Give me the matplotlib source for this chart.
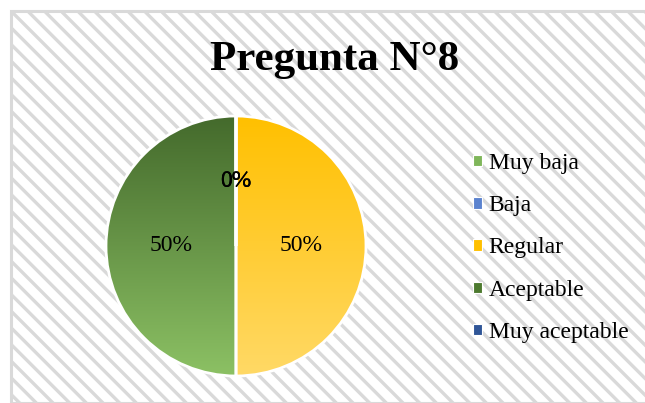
import matplotlib
matplotlib.use("Agg")
import matplotlib.pyplot as plt
import numpy as np
from matplotlib.patches import Rectangle, Patch
from matplotlib.colors import LinearSegmentedColormap

categories = ["Muy baja", "Baja", "Regular", "Aceptable", "Muy aceptable"]
values = [0, 0, 50, 50, 0]
title = "Pregunta N°8"

base_colors = ["#7FB65A", "#5B83CF", "#FFC000", "#4D7A2F", "#2F5597"]
grad_top = ["#6FA34A", "#4A72C0", "#FFC000", "#446A2C", "#2A4C8A"]
grad_bot = ["#9ACB74", "#8FAADC", "#FFD966", "#8CC164", "#5A7EC0"]

plt.rcParams["font.family"] = ["Liberation Serif", "DejaVu Serif"]
plt.rcParams["hatch.color"] = "#eeeeee"
plt.rcParams["hatch.linewidth"] = 2.4

W, H = 645, 403
fig = plt.figure(figsize=(W / 100, H / 100), dpi=100)
fig.patch.set_facecolor("white")

# chart area background with diagonal stripes
bg = Rectangle((11 / W, 0), 1, 1 - 11 / H, transform=fig.transFigure,
               facecolor="white", edgecolor="#d9d9d9", linewidth=2.2,
               hatch="\\\\", zorder=-5)
fig.patches.append(bg)

cx, cy, r = 236, 246, 130
ax = fig.add_axes([(cx - r) / W, (H - cy - r) / H, 2 * r / W, 2 * r / H])
ax.set_facecolor("none")
ax.axis("off")
ax.set_zorder(2)

wedges, texts, autotexts = ax.pie(
    values, startangle=90, counterclock=False, radius=1,
    autopct="%1.0f%%", pctdistance=0.5,
    wedgeprops=dict(edgecolor="white", linewidth=2.0, facecolor="none"),
    textprops=dict(fontsize=17, color="black"))

for i, w in enumerate(wedges):
    w.set_zorder(3)
    if values[i] <= 0:
        continue
    cmap = LinearSegmentedColormap.from_list("g", [grad_top[i], grad_bot[i]])
    grad = np.linspace(0, 1, 256).reshape(-1, 1)
    im = ax.imshow(grad, cmap=cmap, extent=[-1, 1, -1, 1], origin="upper",
                   aspect="auto", zorder=2, interpolation="bilinear")
    im.set_clip_path(w)

for t in autotexts:
    t.set_zorder(5)

ax.set_xlim(-1.0, 1.0)
ax.set_ylim(-1.0, 1.0)
ax.set_aspect("equal")

fig.text(335 / W, 1 - 60 / H, title, ha="center", va="center",
         fontsize=31, fontweight="bold")

handles = [Patch(facecolor=c, edgecolor="white", linewidth=0.8) for c in base_colors]
leg = fig.legend(handles, categories, loc="center left",
                 bbox_to_anchor=(473 / W, 1 - 248 / H), frameon=False,
                 fontsize=17, handlelength=0.37, handleheight=0.37,
                 handletextpad=0.3, labelspacing=0.9,
                 borderpad=0, borderaxespad=0)

fig.savefig("out.png", dpi=100)
